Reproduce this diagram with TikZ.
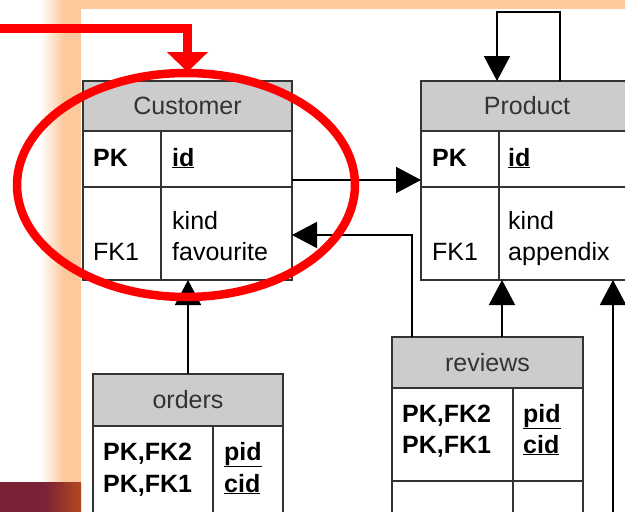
\documentclass[tikz,border=0pt]{standalone}
\usepackage{fontspec}
\setmainfont{Liberation Sans}
\usetikzlibrary{arrows.meta}
\definecolor{peach}{HTML}{FDC89C}
\definecolor{wine}{HTML}{7B2336}
\definecolor{rust}{HTML}{B3481F}
\definecolor{rule}{HTML}{333333}
\tikzset{every node/.style={font=\fontsize{25}{30}\selectfont},
    tablehead/.style={draw=rule, line width=1.4pt, fill=gray!40, text=rule,
        anchor=north west, inner sep=0pt, outer sep=0pt},
    tablecell/.style={draw=rule, line width=1.4pt, fill=white,
        anchor=north west, inner sep=0pt, outer sep=0pt},
    keyname/.style={anchor=base west, inner sep=0pt, font=\fontsize{25}{30}\selectfont\bfseries},
    fieldname/.style={anchor=base west, inner sep=0pt},
    link/.style={line width=2pt, -{Triangle[length=25pt, width=26pt]}},
    pointer/.style={red, line width=8.5pt, -{Triangle[length=20pt, width=40pt]}},
    focusring/.style={red, line width=8.5pt},
    }

\begin{document}
\begin{tikzpicture}[x=1pt, y=-1pt]
\useasboundingbox (0,0) rectangle (625,512);
\clip (0,0) rectangle (625,512);
% slide frame
\shade[left color=white, right color=peach] (40,0) rectangle (64,482);
\fill[peach] (63,0) rectangle (81,482);
\fill[peach] (63,0) rectangle (625,9);
\fill[wine] (0,482) rectangle (46,512);
\shade[left color=wine, right color=rust] (45,482) rectangle (81,512);

% Customer
\node[tablehead, minimum width=209pt, minimum height=50pt] (cust) at (83,81) {Customer};
\node[tablecell, minimum width=78pt, minimum height=56pt] (custpkl) at (83,131) {};
\node[tablecell, minimum width=131pt, minimum height=56pt] (custpkr) at (161,131) {};
\node[tablecell, minimum width=78pt, minimum height=93pt] (custfkl) at (83,187) {};
\node[tablecell, minimum width=131pt, minimum height=93pt] (custfkr) at (161,187) {};
\node[keyname] (custpk) at (93,166) {PK};
\node[keyname] (custid) at (172,166) {\underline{id}};
\node[fieldname] (custkind) at (172,229) {kind};
\node[fieldname] (custfav) at (172,260) {favourite};
\node[fieldname] (custfk) at (93,260) {FK1};

% Product
\node[tablehead, minimum width=212pt, minimum height=50pt] (prod) at (421,81) {Product};
\node[tablecell, minimum width=78pt, minimum height=56pt] (prodpkl) at (421,131) {};
\node[tablecell, minimum width=134pt, minimum height=56pt] (prodpkr) at (499,131) {};
\node[tablecell, minimum width=78pt, minimum height=93pt] (prodfkl) at (421,187) {};
\node[tablecell, minimum width=134pt, minimum height=93pt] (prodfkr) at (499,187) {};
\node[keyname] (prodpk) at (432,166) {PK};
\node[keyname] (prodid) at (508,166) {\underline{id}};
\node[fieldname] (prodkind) at (508,229) {kind};
\node[fieldname] (prodapp) at (508,260) {appendix};
\node[fieldname] (prodfk) at (432,260) {FK1};

% orders
\node[tablehead, minimum width=190pt, minimum height=52pt] (ord) at (93,374) {orders};
\node[tablecell, minimum width=120pt, minimum height=93pt] (ordpkl) at (93,426) {};
\node[tablecell, minimum width=70pt, minimum height=93pt] (ordpkr) at (213,426) {};
\node[keyname] (ordpka) at (103,460) {PK,FK2};
\node[keyname] (ordpkb) at (103,492) {PK,FK1};
\node[keyname] (ordpid) at (224,460) {\underline{pid}};
\node[keyname] (ordcid) at (224,492) {\underline{cid}};

% reviews
\node[tablehead, minimum width=191pt, minimum height=51pt] (rev) at (392,337) {reviews};
\node[tablecell, minimum width=121pt, minimum height=93pt] (revpkl) at (392,388) {};
\node[tablecell, minimum width=70pt, minimum height=93pt] (revpkr) at (513,388) {};
\node[tablecell, minimum width=121pt, minimum height=93pt] (revl) at (392,481) {};
\node[tablecell, minimum width=70pt, minimum height=93pt] (revr) at (513,481) {};
\node[keyname] (revpka) at (402,422) {PK,FK2};
\node[keyname] (revpkb) at (402,453) {PK,FK1};
\node[keyname] (revpid) at (523,422) {\underline{pid}};
\node[keyname] (revcid) at (523,453) {\underline{cid}};

% relations
\coordinate (revtop) at ([xshift=14.5pt]rev.north);
\coordinate (offbottom) at (613,520);
\draw[link] ([xshift=33pt]prod.north) -- ++(0,-69) -| ([xshift=-30pt]prod.north);
\draw[link] ([yshift=-21pt]custpkr.east) -- ([yshift=-21pt]prodpkl.west);
\draw[link] ([xshift=20pt]rev.north west) |- ([yshift=-1.5pt]custfkr.east);
\draw[link] (revtop) -- (revtop |- prodfkr.south);
\draw[link] (offbottom) -- (offbottom |- prodfkr.south);
\draw[link] (ord.north) -- (ord.north |- custfkr.south);

% highlight
\coordinate (redstart) at (0,28.5);
\draw[pointer] (redstart) -| ([yshift=9pt]cust.north);
\draw[focusring] (186,185) ellipse [x radius=169, y radius=112];
\end{tikzpicture}
\end{document}
